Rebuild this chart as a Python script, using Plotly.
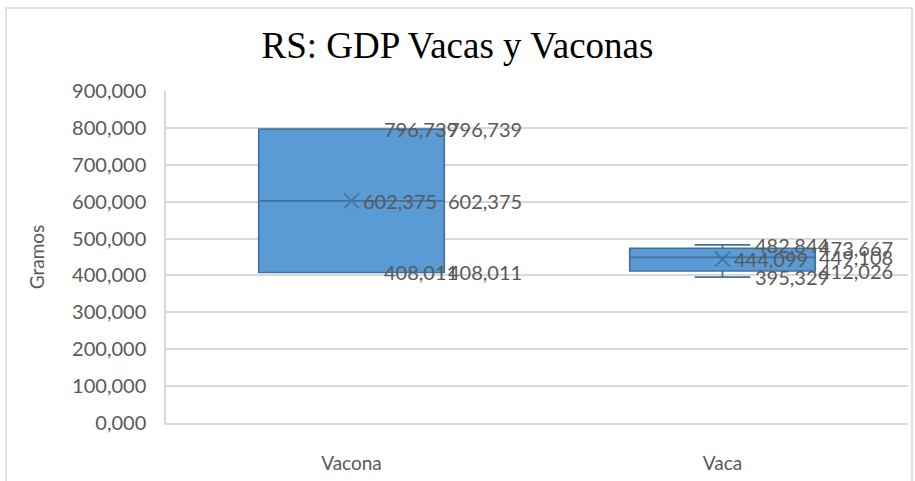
import plotly.graph_objects as go

categories = ["Vacona", "Vaca"]
mins = [408.011, 395.329]
q1s = [408.011, 412.026]
medians = [602.375, 449.108]
q3s = [796.739, 473.667]
maxs = [796.739, 482.844]
means = [602.375, 444.099]

fill_col = "#5B9BD5"
edge_col = "#41719C"
text_col = "#595959"
grid_col = "#D9D9D9"
font_name = "Lato"


def fmt(v):
    return f"{v:,.3f}".replace(",", " ").replace(".", ",")


fig = go.Figure()
fig.add_trace(go.Box(
    x=categories, q1=q1s, median=medians, q3=q3s,
    lowerfence=mins, upperfence=maxs,
    fillcolor=fill_col, line=dict(color=edge_col, width=1.7),
    whiskerwidth=0.3, width=0.5, boxpoints=False, hoverinfo="skip",
    showlegend=False,
))
fig.add_trace(go.Scatter(
    x=categories, y=means, mode="markers",
    marker=dict(symbol="x-thin", size=15, line=dict(color=edge_col, width=1.6)),
    showlegend=False, hoverinfo="skip",
))

# data labels, Excel style: max / mean / min on the left, q3 / median / q1 on the right
for i, cat in enumerate(categories):
    left = [(maxs[i], 30), (means[i], 9), (mins[i], 30)]
    right = [(q3s[i], 94), (medians[i], 94), (q1s[i], 94)]
    for val, shift in left + right:
        fig.add_annotation(x=cat, y=val, text=fmt(val), showarrow=False,
                           xanchor="left", yanchor="middle", xshift=shift,
                           font=dict(family=font_name, size=20, color=text_col))

# outer chart border
fig.add_shape(type="rect", xref="paper", yref="paper",
              x0=(6 - 166) / 742, x1=(912 - 166) / 742,
              y0=(423 - 490) / 332, y1=(423 - 8) / 332,
              line=dict(color=grid_col, width=1.5), layer="below")

fig.update_layout(
    width=915, height=481,
    margin=dict(l=166, r=7, t=91, b=58),
    paper_bgcolor="white", plot_bgcolor="white",
    separators=",.",
    title=dict(text="RS: GDP Vacas y Vaconas", x=0.5, xanchor="center",
               y=(481 - 45) / 481, yanchor="middle", yref="container",
               font=dict(family="Liberation Serif", size=37, color="black")),
    xaxis=dict(range=[-0.5, 1.5], automargin=False,
               showgrid=False, showline=True, linecolor=grid_col, linewidth=1.5,
               ticks="", ticklabelstandoff=22,
               tickfont=dict(family=font_name, size=19, color=text_col)),
    yaxis=dict(range=[0, 900], dtick=100, tickformat=",.3f", automargin=False,
               showgrid=True, gridcolor=grid_col, gridwidth=1.5,
               showline=True, linecolor=grid_col, linewidth=1.5,
               zeroline=False, ticks="", ticklabelstandoff=14,
               tickfont=dict(family=font_name, size=20, color=text_col),
               title=dict(text="Gramos", standoff=22,
                          font=dict(family=font_name, size=19, color=text_col))),
)

fig.write_html("out.html", config={"displayModeBar": False},
               post_script="document.body.style.margin='0';")
